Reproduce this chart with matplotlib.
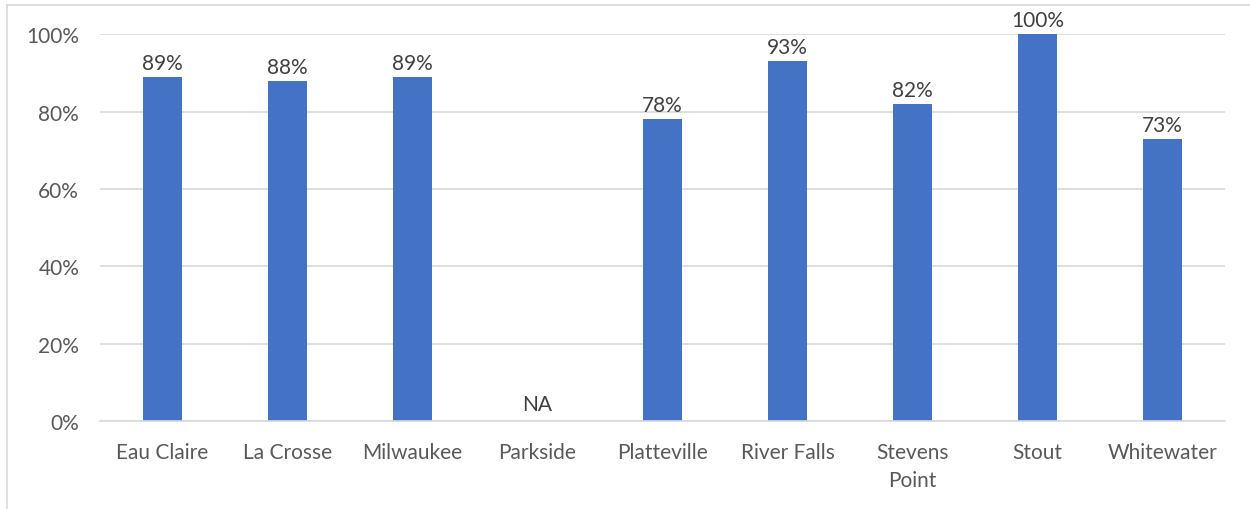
import matplotlib
matplotlib.use("Agg")
from matplotlib import pyplot as plt
from matplotlib.lines import Line2D

campuses = ["Eau Claire", "La Crosse", "Milwaukee", "Parkside", "Platteville",
            "River Falls", "Stevens\nPoint", "Stout", "Whitewater"]
values = [89, 88, 89, None, 78, 93, 82, 100, 73]
y_ticks = [0, 20, 40, 60, 80, 100]

plt.rcParams['font.family'] = ['Lato', 'DejaVu Sans']
text_color = '#595959'
bar_color = '#4472C4'
grid_color = '#D9D9D9'

fig = plt.figure(figsize=(12.5, 5.1), dpi=100)
ax = fig.add_axes([0.08, 0.1725, 0.90, 0.7585])

x = range(len(campuses))
heights = [v if v is not None else 0 for v in values]
ax.bar(x, heights, width=0.31, color=bar_color, zorder=3)

for i, v in enumerate(values):
    if v is None:
        ax.text(i, 1.8, "NA", ha='center', va='bottom', fontsize=15, color='#404040')
    else:
        ax.text(i, v + 1.0, f"{v}%", ha='center', va='bottom', fontsize=15, color='#404040')

ax.set_xlim(-0.5, len(campuses) - 0.5)
ax.set_ylim(0, 100)
ax.set_yticks(y_ticks)
ax.set_yticklabels([f"{t}%" for t in y_ticks])
ax.set_xticks(list(x))
ax.set_xticklabels(campuses, va='top', linespacing=1.5)
ax.tick_params(axis='both', length=0, labelsize=15, colors=text_color)
ax.tick_params(axis='y', pad=15)
ax.tick_params(axis='x', pad=15)
ax.yaxis.grid(True, color=grid_color, linewidth=1.2, zorder=0)
for s in ['top', 'right', 'left']:
    ax.spines[s].set_visible(False)
ax.spines['bottom'].set_color(grid_color)
ax.spines['bottom'].set_linewidth(1.2)
ax.spines['bottom'].set_zorder(4)

# outer chart frame (partly cut off in the original)
fig.add_artist(Line2D([7 / 1250, 7 / 1250], [0, 1 - 6 / 510], color='#D9D9D9', lw=1.2))
fig.add_artist(Line2D([7 / 1250, 1], [1 - 6 / 510, 1 - 6 / 510], color='#D9D9D9', lw=1.2))

fig.savefig("out.png", dpi=100)
